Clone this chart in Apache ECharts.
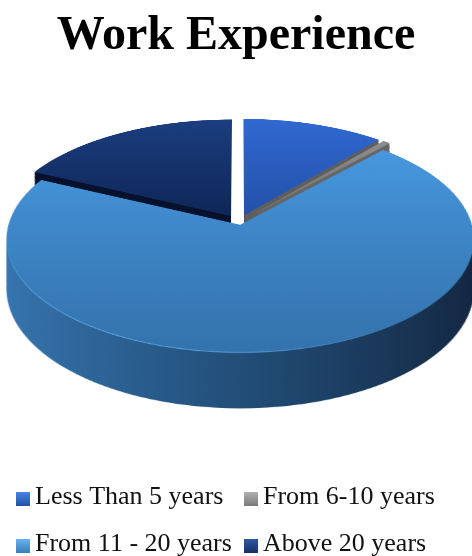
<!DOCTYPE html>
<html>
<head>
<meta charset="utf-8">
<script src="https://cdn.jsdelivr.net/npm/echarts@6/dist/echarts.min.js"></script>
<style>
  html, body { margin: 0; padding: 0; background: #fff; overflow: hidden; }
  #frame { position: absolute; left: 0; top: 0; width: 472px; height: 556px; }
  #pie { position: absolute; left: 0; width: 472px; }
</style>
</head>
<body>
<div id="frame"></div>
<div id="pie"></div>
<script>
// Survey breakdown of respondents by years of work experience (percent)
const chartTitle = 'Work Experience';
const categories = ['Less Than 5 years', 'From 6-10 years', 'From 11 - 20 years', 'Above 20 years'];
const shares = [11.2, 0.6, 70.2, 18.0];
// how far each slice is pulled out from the hub
const explodeBy = [15, 15, 6, 15];

// Colours: top faces (vertical gradient), walls, legend swatches
const topColors = [['#3169d2', '#2352aa'], ['#8e8e8e', '#707070'], ['#4798df', '#3473ad'], ['#1c3e80', '#0f2758']];
const wallColors = ['#5e5e5e', '#666666', null, '#07132e'];
const legendColors = [['#4a82e0', '#2451a8'], ['#b0b0b0', '#7a7a7a'], ['#6ab2ee', '#3a7cbc'], ['#3158a0', '#14306a']];

const LG = echarts.graphic.LinearGradient;

// ---- pie: stacked copies of one pie give the disc its thickness; the whole
// canvas is then tilted back with a CSS perspective transform.
const HUB_X = 239, HUB_Y = 300;      // hub position inside the pie canvas
const SCREEN_HUB_Y = 222;            // where the hub lands on the page
const R = 231, DEPTH = 97, LAYERS = 56;
const PERSP = 1600, TILT = 61.5;
const sinT = Math.sin(TILT * Math.PI / 180);

const pieEl = document.getElementById('pie');
pieEl.style.top = (SCREEN_HUB_Y - HUB_Y) + 'px';
pieEl.style.height = '660px';
pieEl.style.transformOrigin = HUB_X + 'px ' + HUB_Y + 'px';
pieEl.style.transform = 'perspective(' + PERSP + 'px) rotateX(' + TILT + 'deg)';

function mainWall(layer) {
  if (layer === 1) {
    return new LG(0, 0, 1, 0, [
      { offset: 0, color: '#66b2f2' }, { offset: 0.55, color: '#4f92cf' }, { offset: 1, color: '#2c5a86' }
    ]);
  }
  return new LG(0, 0, 1, 0, [
    { offset: 0, color: '#3776b0' }, { offset: 0.45, color: '#24527e' }, { offset: 1, color: '#132640' }
  ]);
}

function sliceColor(k, layer) {
  if (layer === 0) {
    return new LG(0, 0, 0, 1, [{ offset: 0, color: topColors[k][0] }, { offset: 1, color: topColors[k][1] }]);
  }
  return wallColors[k] || mainWall(layer);
}

// One pie per distinct explosion distance; slices belonging to another
// distance are kept in the pie (so angles stay shared) but left invisible.
const offsets = Array.from(new Set(explodeBy));

function layerSeries(layer, offset) {
  const d = DEPTH * layer / LAYERS;
  // shrink lower layers so the wall stays upright after the perspective tilt
  const r = R * (PERSP - d * sinT) / PERSP;
  return {
    type: 'pie',
    center: [HUB_X, HUB_Y + d],
    radius: r,
    startAngle: 90,
    clockwise: true,
    selectedMode: 'multiple',
    selectedOffset: offset,
    silent: true,
    animation: false,
    label: { show: false },
    labelLine: { show: false },
    emphasis: { disabled: true },
    z: LAYERS - layer + 1,
    data: categories.map((name, k) => ({
      name: name,
      value: shares[k],
      selected: explodeBy[k] > 0,
      itemStyle: explodeBy[k] === offset
        ? { borderWidth: 0, color: sliceColor(k, layer) }
        : { borderWidth: 0, color: 'rgba(0,0,0,0)', opacity: 0 }
    }))
  };
}

const pieSeries = [];
for (let layer = LAYERS; layer >= 0; layer--) {
  offsets.forEach(off => pieSeries.push(layerSeries(layer, off)));
}

const pieChart = echarts.init(pieEl, null, { renderer: 'canvas', devicePixelRatio: 2 });
pieChart.setOption({ animation: false, series: pieSeries });

// ---- title and key (flat, untransformed)
const serif = '"Liberation Serif", "Times New Roman", "DejaVu Serif", serif';
// key laid out as a 2 x 2 grid: [column, row] for each category
const keySlots = [[0, 0], [1, 0], [0, 1], [1, 1]];
const keyColX = [16, 244];
const keyRowY = [497, 544];
const SWATCH = 14;

const keyElements = categories.map((name, k) => {
  const x = keyColX[keySlots[k][0]];
  const y = keyRowY[keySlots[k][1]];
  return {
    type: 'group',
    silent: true,
    children: [
      {
        type: 'rect',
        shape: { x: x, y: y - SWATCH / 2 + 2, width: SWATCH, height: SWATCH },
        style: {
          fill: new LG(0, 0, 0, 1, [{ offset: 0, color: legendColors[k][0] }, { offset: 1, color: legendColors[k][1] }])
        }
      },
      {
        type: 'text',
        style: {
          text: name,
          x: x + SWATCH + 5,
          y: y,
          fill: '#111',
          fontFamily: serif,
          fontSize: 26,
          fontWeight: 'normal',
          align: 'left',
          verticalAlign: 'middle'
        }
      }
    ]
  };
});

const frame = echarts.init(document.getElementById('frame'), null, { renderer: 'canvas' });
frame.setOption({
  animation: false,
  title: {
    text: chartTitle,
    left: 'center',
    top: 8,
    textStyle: { fontFamily: serif, fontWeight: 'bold', fontSize: 48, color: '#000' }
  },
  graphic: { elements: keyElements }
});
</script>
</body>
</html>
